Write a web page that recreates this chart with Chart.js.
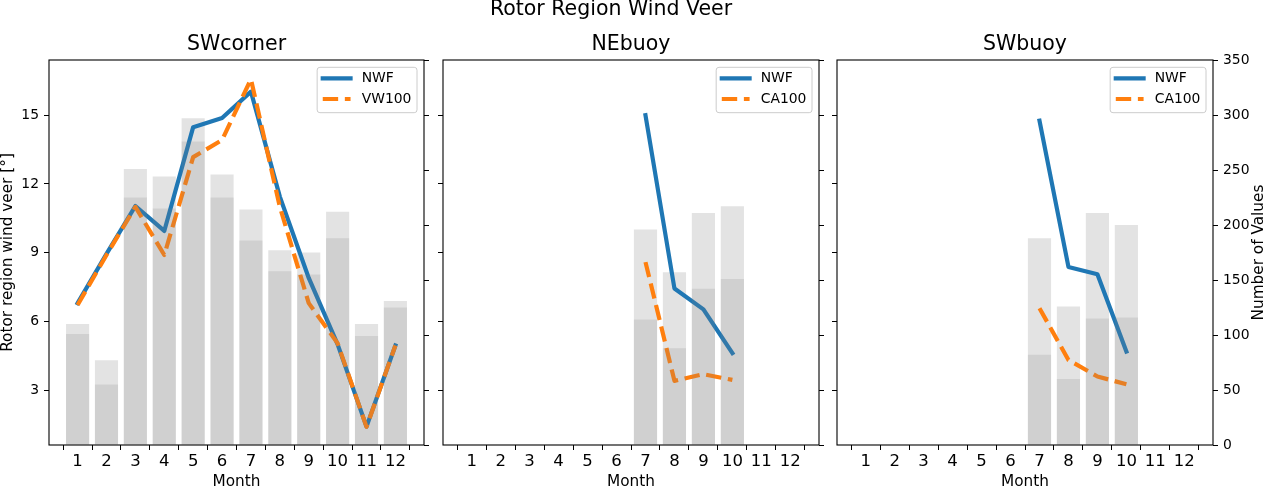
<!DOCTYPE html>
<html>
<head>
<meta charset="utf-8">
<script src="https://cdn.jsdelivr.net/npm/chart.js@4.4.0/dist/chart.umd.min.js"></script>
<style>
  html, body { margin: 0; padding: 0; background: #fff; }
  #figura { position: relative; width: 1264px; height: 487px; overflow: hidden; }
  #figura canvas { position: absolute; left: 0; top: 0; width: 1264px; height: 487px; }
</style>
</head>
<body>
<div id="figura">
  <canvas id="painelSWcorner" width="1264" height="487"></canvas>
  <canvas id="painelNEbuoy" width="1264" height="487"></canvas>
  <canvas id="painelSWbuoy" width="1264" height="487"></canvas>
</div>
<script>
// Eixos comuns
const meses = [1, 2, 3, 4, 5, 6, 7, 8, 9, 10, 11, 12];
const ticksVeer = [3, 6, 9, 12, 15];
const ticksContagem = [0, 50, 100, 150, 200, 250, 300, 350];

// SWcorner (todos os meses)
const swcornerMeses = [1, 2, 3, 4, 5, 6, 7, 8, 9, 10, 11, 12];
const swcornerNWF = [6.8, 8.95, 11.04, 9.95, 14.48, 14.88, 16.03, 11.45, 7.9, 5.0, 1.41, 4.95];
const swcornerVW100 = [6.72, 8.9, 11.0, 8.9, 13.17, 13.92, 16.57, 11.0, 6.8, 5.05, 1.4, 4.95];
const swcornerTotal = [110, 77, 251, 244, 297, 246, 214, 177, 175, 212, 110, 131];
const swcornerValidos = [101, 55, 225, 215, 276, 225, 186, 158, 155, 188, 99, 125];

// NEbuoy (julho a outubro)
const nebuoyMeses = [7, 8, 9, 10];
const nebuoyNWF = [15.0, 7.44, 6.53, 4.62];
const nebuoyCA100 = [8.59, 3.41, 3.7, 3.45];
const nebuoyTotal = [196, 157, 211, 217];
const nebuoyValidos = [114, 88, 142, 151];

// SWbuoy (julho a outubro)
const swbuoyMeses = [7, 8, 9, 10];
const swbuoyNWF = [14.76, 8.38, 8.06, 4.69];
const swbuoyCA100 = [6.58, 4.32, 3.6, 3.26];
const swbuoyTotal = [188, 126, 211, 200];
const swbuoyValidos = [82, 60, 115, 116];

const FONTE = 'DejaVu Sans';
const AZUL = '#1f77b4';
const LARANJA = '#ff7f0e';
Chart.defaults.font.family = FONTE;
Chart.defaults.color = '#000';

function pontos(xs, ys) {
    return xs.map((x, i) => ({ x: x, y: ys[i] }));
}

// Legenda no canto superior direito, com moldura arredondada
function desenharLegenda(chart) {
    const { ctx, chartArea: a } = chart;
    const linhas = chart.data.datasets.filter(d => d.type === 'line');
    ctx.font = '13.9px "' + FONTE + '"';
    const larguraTexto = Math.max(...linhas.map(d => ctx.measureText(d.label).width));
    const pad = 5.6, alca = 27.8, sep = 11.1;
    const w = pad + alca + sep + larguraTexto + pad;
    const h = 45.4;
    const x0 = a.right - 7 - w, y0 = a.top + 7.3;

    ctx.beginPath();
    ctx.roundRect(x0, y0, w, h, 2.8);
    ctx.fillStyle = 'rgba(255,255,255,0.8)';
    ctx.fill();
    ctx.strokeStyle = '#cccccc';
    ctx.lineWidth = 1;
    ctx.stroke();

    linhas.forEach((d, i) => {
        const y = y0 + 11 + i * 20.7;
        ctx.beginPath();
        ctx.setLineDash(d.borderDash || []);
        ctx.lineCap = d.borderDash ? 'butt' : 'square';
        ctx.strokeStyle = d.borderColor;
        ctx.lineWidth = d.borderWidth;
        ctx.moveTo(x0 + pad, y);
        ctx.lineTo(x0 + pad + alca, y);
        ctx.stroke();
        ctx.setLineDash([]);
        ctx.fillStyle = '#000';
        ctx.textAlign = 'left';
        ctx.textBaseline = 'middle';
        ctx.fillText(d.label, x0 + pad + alca + sep, y);
    });
}

const pluginExtras = {
    id: 'extras',
    afterDraw(chart, args, opts) {
        const { ctx, chartArea: a } = chart;
        ctx.save();
        // moldura do painel
        ctx.strokeStyle = '#000';
        ctx.lineWidth = 1.1;
        ctx.strokeRect(a.left, a.top, a.right - a.left, a.bottom - a.top);
        desenharLegenda(chart);
        ctx.fillStyle = '#000';
        ctx.textAlign = 'center';
        ctx.textBaseline = 'middle';
        if (opts.tituloDireita) {
            ctx.save();
            ctx.font = '15.3px "' + FONTE + '"';
            ctx.translate(opts.tituloDireitaX, (a.top + a.bottom) / 2);
            ctx.rotate(-Math.PI / 2);
            ctx.fillText(opts.tituloDireita, 0, 0);
            ctx.restore();
        }
        if (opts.supertitulo) {
            ctx.font = '20.5px "' + FONTE + '"';
            ctx.fillText(opts.supertitulo, 611, 10);
        }
        ctx.restore();
    }
};

function criarPainel(id, p) {
    const ctx = document.getElementById(id).getContext('2d');
    const estiloBarra = { type: 'bar', yAxisID: 'yN', grouped: false, barPercentage: 0.8, categoryPercentage: 1, borderWidth: 0 };
    return new Chart(ctx, {
        type: 'bar',
        data: {
            datasets: [
                Object.assign({}, estiloBarra, { label: 'Total', data: pontos(p.meses, p.total), backgroundColor: 'rgba(128,128,128,0.22)', order: 3 }),
                Object.assign({}, estiloBarra, { label: 'Validos', data: pontos(p.meses, p.validos), backgroundColor: 'rgba(128,128,128,0.2)', order: 0 }),
                { type: 'line', label: 'NWF', data: pontos(p.meses, p.nwf), yAxisID: 'yV', borderColor: AZUL, borderWidth: 4.2,
                  pointRadius: 0, tension: 0, borderCapStyle: 'square', borderJoinStyle: 'round', order: 2 },
                { type: 'line', label: p.nomeRef, data: pontos(p.meses, p.ref), yAxisID: 'yV', borderColor: LARANJA, borderWidth: 4.2,
                  borderDash: [15.4, 6.7], pointRadius: 0, tension: 0, borderCapStyle: 'butt', borderJoinStyle: 'round', order: 1 }
            ]
        },
        options: {
            responsive: false,
            animation: false,
            layout: { padding: { left: p.padEsq, right: p.padDir, top: 0, bottom: 0 } },
            plugins: {
                legend: { display: false },
                tooltip: { enabled: false },
                title: { display: true, text: p.titulo, fullSize: false, color: '#000',
                         font: { size: 20.5, weight: 'normal' }, padding: { top: 32.2, bottom: 3.2 } },
                extras: { tituloDireita: p.tituloDireita, tituloDireitaX: 1259, supertitulo: p.supertitulo }
            },
            scales: {
                x: {
                    type: 'linear', min: 0.01, max: 12.99, offset: false, position: 'bottom',
                    afterBuildTicks: s => { s.ticks = meses.map(v => ({ value: v })); },
                    afterFit: s => { s.height = 42; },
                    grid: { drawOnChartArea: false, drawTicks: true, tickLength: 5, tickColor: '#000', tickWidth: 1 },
                    border: { display: false },
                    ticks: { font: { size: 16.5 }, padding: 2, color: '#000', maxRotation: 0, autoSkip: false, callback: v => String(v) },
                    title: { display: true, text: 'Month', color: '#000', font: { size: 15.3, lineHeight: 0.6 }, padding: { top: 0, bottom: 0 } }
                },
                yV: {
                    type: 'linear', position: 'left', min: 0.61, max: 17.41,
                    afterBuildTicks: s => { s.ticks = ticksVeer.map(v => ({ value: v })); },
                    afterFit: s => { s.width = p.largEsq; },
                    grid: { drawOnChartArea: false, drawTicks: true, tickLength: 5, tickColor: '#000', tickWidth: 1 },
                    border: { display: false },
                    ticks: { display: p.rotulosEsq, font: { size: 13.9 }, padding: 5, color: '#000', callback: v => String(v) },
                    title: { display: p.rotulosEsq, text: 'Rotor region wind veer [°]', color: '#000',
                             font: { size: 15.3, lineHeight: 1 }, padding: { top: 0, bottom: 0 } }
                },
                yN: {
                    type: 'linear', position: 'right', min: 0, max: 350,
                    afterBuildTicks: s => { s.ticks = ticksContagem.map(v => ({ value: v })); },
                    afterFit: s => { s.width = p.largDir; },
                    grid: { drawOnChartArea: false, drawTicks: true, tickLength: 5, tickColor: '#000', tickWidth: 1 },
                    border: { display: false },
                    ticks: { display: p.rotulosDir, font: { size: 13.9 }, padding: 5, color: '#000', callback: v => String(v) }
                }
            }
        },
        plugins: [pluginExtras]
    });
}

// Carrega os tres paineis ao abrir a pagina
document.addEventListener('DOMContentLoaded', () => {
    criarPainel('painelSWcorner', {
        titulo: 'SWcorner', nomeRef: 'VW100', meses: swcornerMeses,
        nwf: swcornerNWF, ref: swcornerVW100, total: swcornerTotal, validos: swcornerValidos,
        padEsq: 0, largEsq: 49, padDir: 830, largDir: 10, rotulosEsq: true, rotulosDir: false,
        supertitulo: 'Rotor Region Wind Veer'
    });
    criarPainel('painelNEbuoy', {
        titulo: 'NEbuoy', nomeRef: 'CA100', meses: nebuoyMeses,
        nwf: nebuoyNWF, ref: nebuoyCA100, total: nebuoyTotal, validos: nebuoyValidos,
        padEsq: 433, largEsq: 10, padDir: 435, largDir: 10, rotulosEsq: false, rotulosDir: false
    });
    criarPainel('painelSWbuoy', {
        titulo: 'SWbuoy', nomeRef: 'CA100', meses: swbuoyMeses,
        nwf: swbuoyNWF, ref: swbuoyCA100, total: swbuoyTotal, validos: swbuoyValidos,
        padEsq: 827, largEsq: 10, padDir: 0, largDir: 51, rotulosEsq: false, rotulosDir: true,
        tituloDireita: 'Number of Values'
    });
});
</script>
</body>
</html>
